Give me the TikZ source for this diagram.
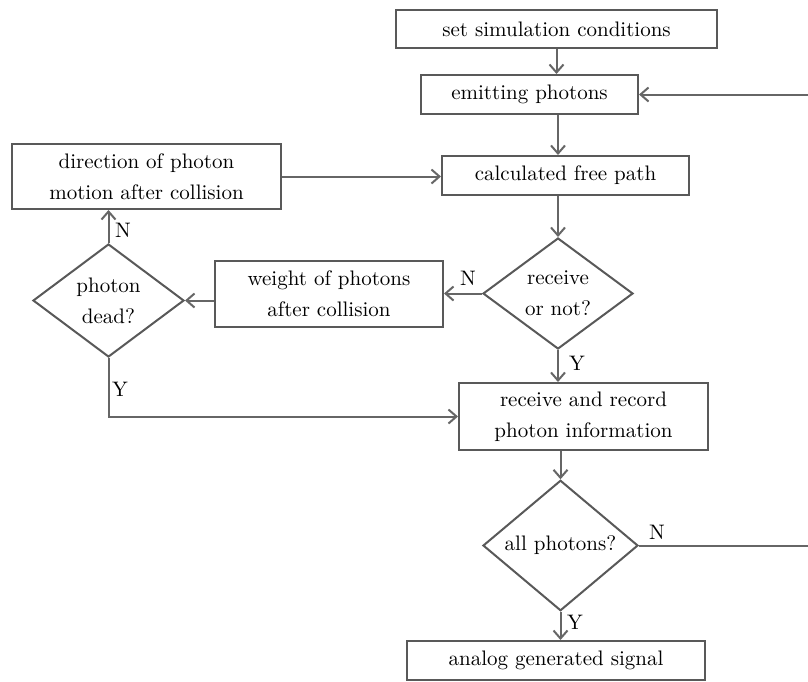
\documentclass[tikz,border=0pt]{standalone}
\usepackage{tikz}
\usetikzlibrary{shapes.geometric,arrows.meta}

\begin{document}
\begin{tikzpicture}[x=0.5pt,y=-0.5pt,
  font=\fontsize{10.5}{15.5}\selectfont,
  box/.style={draw=black!65,line width=1pt,rectangle,align=center,inner sep=0pt},
  decision/.style={draw=black!65,line width=1pt,diamond,align=center,inner sep=0pt},
  flow/.style={draw=black!60,line width=1pt,-{Straight Barb[length=4pt,width=7pt]}},
  lbl/.style={inner sep=0pt}]
  \useasboundingbox[fill=white] (0,0) rectangle (808,681);
  \node[box,minimum width=160.5pt,minimum height=19pt] (setsim) at (556.5,29) {set simulation conditions};
  \node[box,minimum width=108.5pt,minimum height=19.5pt] (emit) at (529.5,94.5) {emitting photons};
  \node[box,minimum width=123.5pt,minimum height=19.5pt] (calc) at (565.5,175.5) {calculated free path};
  \node[box,minimum width=134.5pt,minimum height=32.5pt] (dir) at (146.5,176.5) {direction of photon\\motion after collision};
  \node[decision,minimum width=75pt,minimum height=55.5pt] (recv) at (558,293.5) {receive\\or not?};
  \node[box,minimum width=114pt,minimum height=33pt] (weight) at (329,294) {weight of photons\\after collision};
  \node[decision,minimum width=75.5pt,minimum height=56.5pt] (dead) at (108.5,300.5) {photon\\dead?};
  \node[box,minimum width=124.5pt,minimum height=33.5pt] (record) at (583.5,416.5) {receive and record\\photon information};
  \node[decision,minimum width=77.5pt,minimum height=61.5pt] (all) at (560.5,545.5) {all photons?};
  \node[box,minimum width=149pt,minimum height=19.5pt] (signal) at (556,660.5) {analog generated signal};
  \coordinate (loop) at (812,0);

  \draw[flow] (setsim) -- (setsim |- emit.north);
  \draw[flow] (emit.south -| recv) -- (calc.north -| recv);
  \draw[flow] (calc.south -| recv) -- (recv.north);
  \draw[flow] (recv.west) -- (recv.west -| weight.east);
  \draw[flow] (weight.west |- dead) -- (dead.east);
  \draw[flow] (dead.north) -- (dead.north |- dir.south);
  \draw[flow] (dir.east) -- (dir.east -| calc.west);
  \draw[flow] (recv.south) -- (recv.south |- record.north);
  \draw[flow] (dead.south) |- (record.west);
  \draw[flow] (record.south -| all) -- (all.north);
  \draw[flow] (all.south) -- (all.south |- signal.north);
  \draw[flow] (all.east) -- (all.east -| loop) |- (emit.east);

  \node[lbl] (deadN) at (123,230) {N};
  \node[lbl] (deadY) at (120,389) {Y};
  \node[lbl] (recvN) at (468,278) {N};
  \node[lbl] (recvY) at (577,363) {Y};
  \node[lbl] (allN) at (657,532) {N};
  \node[lbl] (allY) at (575,622) {Y};
\end{tikzpicture}
\end{document}
